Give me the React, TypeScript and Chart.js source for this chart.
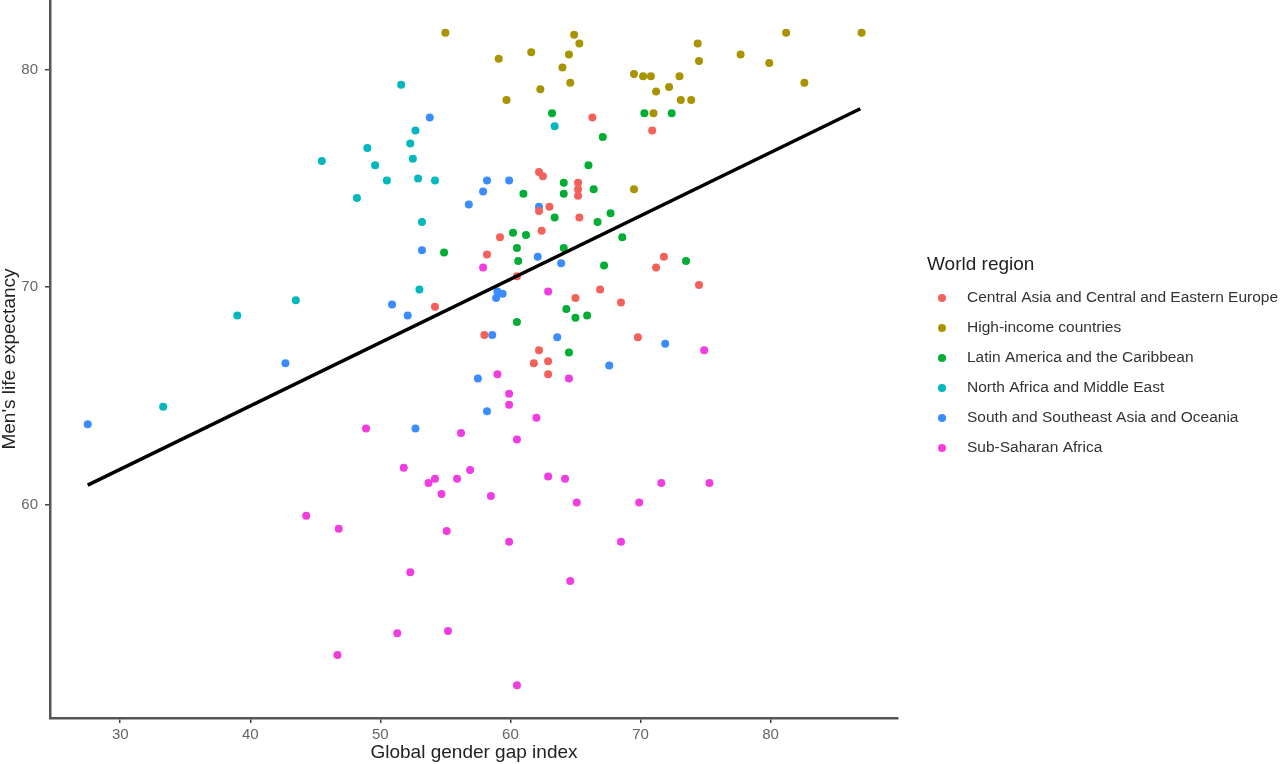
import React, { useEffect, useRef } from "react";
import { Chart, registerables } from "chart.js";

Chart.register(...registerables);

// ---- Data ----
const regionNames = [
  "Central Asia and Central and Eastern Europe",
  "High-income countries",
  "Latin America and the Caribbean",
  "North Africa and Middle East",
  "South and Southeast Asia and Oceania",
  "Sub-Saharan Africa",
];

const regionColors = ["#F4605A", "#A89400", "#00AE34", "#00B8BE", "#3A8CFF", "#F03CE0"];

const centralAsiaX = [66.3, 70.9, 62.2, 62.5, 65.2, 65.2, 65.2, 63.0, 62.2, 65.3, 62.4, 59.2, 58.2, 60.5, 71.8, 71.2, 74.5, 65.0, 66.9, 68.5, 54.2, 58.0, 69.8, 62.2, 61.8, 62.9, 62.9];
const centralAsiaY = [77.8, 77.2, 75.3, 75.1, 74.8, 74.5, 74.2, 73.7, 73.5, 73.2, 72.6, 72.3, 71.5, 70.5, 71.4, 70.9, 70.1, 69.5, 69.9, 69.3, 69.1, 67.8, 67.7, 67.1, 66.5, 66.6, 66.0];

const highIncomeX = [55.0, 59.1, 61.6, 64.9, 65.3, 64.5, 64.0, 64.6, 62.3, 59.7, 74.4, 74.5, 77.7, 81.2, 87.0, 79.9, 82.6, 69.5, 70.2, 70.8, 71.2, 72.2, 73.0, 73.1, 73.9, 71.0, 69.5];
const highIncomeY = [81.7, 80.5, 80.8, 81.6, 81.2, 80.7, 80.1, 79.4, 79.1, 78.6, 81.2, 80.4, 80.7, 81.7, 81.7, 80.3, 79.4, 79.8, 79.7, 79.7, 79.0, 79.2, 79.7, 78.6, 78.6, 78.0, 74.5];

const latinAmericaX = [63.2, 67.1, 66.0, 64.1, 64.1, 66.4, 61.0, 70.3, 72.4, 67.7, 66.7, 63.4, 68.6, 60.2, 61.2, 60.5, 60.6, 64.1, 67.2, 73.5, 54.9, 64.3, 65.0, 65.9, 60.5, 64.5];
const latinAmericaY = [78.0, 76.9, 75.6, 74.8, 74.3, 74.5, 74.3, 78.0, 78.0, 73.4, 73.0, 73.2, 72.3, 72.5, 72.4, 71.8, 71.2, 71.8, 71.0, 71.2, 71.6, 69.0, 68.6, 68.7, 68.4, 67.0];

const northAfricaX = [51.6, 52.7, 52.3, 49.0, 49.6, 45.5, 52.5, 50.5, 52.9, 54.2, 48.2, 53.2, 53.0, 43.5, 39.0, 33.3, 63.4];
const northAfricaY = [79.3, 77.2, 76.6, 76.4, 75.6, 75.8, 75.9, 74.9, 75.0, 74.9, 74.1, 73.0, 69.9, 69.4, 68.7, 64.5, 77.4];

const southAsiaX = [53.8, 53.2, 50.9, 52.1, 42.7, 27.5, 52.7, 58.2, 57.9, 59.9, 56.8, 62.2, 62.1, 63.9, 59.0, 59.4, 58.9, 58.6, 63.6, 71.9, 67.6, 57.5, 58.2];
const southAsiaY = [77.8, 71.7, 69.2, 68.7, 66.5, 63.7, 63.5, 74.9, 74.4, 74.9, 73.8, 73.7, 71.4, 71.1, 69.8, 69.7, 69.5, 67.8, 67.7, 67.4, 66.4, 65.8, 64.3];

const subSaharanX = [57.9, 62.9, 74.9, 59.0, 64.5, 48.9, 59.9, 59.9, 62.0, 56.2, 60.5, 51.8, 53.7, 54.2, 54.7, 56.9, 55.9, 58.5, 62.9, 64.2, 65.1, 69.9, 71.6, 75.3, 44.3, 46.8, 55.1, 59.9, 68.5, 52.3, 64.6, 51.3, 55.2, 46.7, 60.5];
const subSaharanY = [70.9, 69.8, 67.1, 66.0, 65.8, 63.5, 65.1, 64.6, 64.0, 63.3, 63.0, 61.7, 61.0, 61.2, 60.5, 61.6, 61.2, 60.4, 61.3, 61.2, 60.1, 60.1, 61.0, 61.0, 59.5, 58.9, 58.8, 58.3, 58.3, 56.9, 56.5, 54.1, 54.2, 53.1, 51.7];

const fitLineX = [27.5, 86.9];
const fitLineY = [60.9, 78.2];

const xTicks = [30, 40, 50, 60, 70, 80];
const yTicks = [60, 70, 80];

const xMin = 24.6;
const xMax = 89.8;
const yMin = 50.2;
const yMax = 83.2;

const regionXs = [centralAsiaX, highIncomeX, latinAmericaX, northAfricaX, southAsiaX, subSaharanX];
const regionYs = [centralAsiaY, highIncomeY, latinAmericaY, northAfricaY, southAsiaY, subSaharanY];

const FONT = '"Liberation Sans", Arial, sans-serif';

export default function App() {
  const ref = useRef<HTMLCanvasElement>(null);

  useEffect(() => {
    if (!ref.current) return;
    const toPts = (xs: number[], ys: number[]) => xs.map((x, i) => ({ x, y: ys[i] }));

    const datasets: any[] = [
      {
        label: "Linear fit",
        data: toPts(fitLineX, fitLineY),
        showLine: true,
        borderColor: "#000000",
        backgroundColor: "#000000",
        borderWidth: 3.5,
        pointRadius: 0,
        order: 0,
      },
      ...regionNames.map((name, i) => ({
        label: name,
        data: toPts(regionXs[i], regionYs[i]),
        backgroundColor: regionColors[i],
        borderColor: regionColors[i],
        pointRadius: 4,
        pointBorderWidth: 0,
        order: 1,
      })),
    ];

    const legendPlugin = {
      id: "regionLegend",
      afterDraw(chart: any) {
        const ctx = chart.ctx as CanvasRenderingContext2D;
        ctx.save();
        ctx.textBaseline = "middle";
        ctx.textAlign = "left";
        ctx.fillStyle = "#222222";
        ctx.font = `19px ${FONT}`;
        ctx.fillText("World region", 927, 265);
        ctx.font = `15.5px ${FONT}`;
        regionNames.forEach((name, i) => {
          const y = 298 + i * 30;
          ctx.beginPath();
          ctx.fillStyle = regionColors[i];
          ctx.arc(942, y, 4, 0, Math.PI * 2);
          ctx.fill();
          ctx.fillStyle = "#333333";
          ctx.fillText(name, 967, y);
        });
        ctx.restore();
      },
    };

    const chart = new Chart(ref.current, {
      type: "scatter",
      data: { datasets },
      options: {
        animation: false,
        responsive: true,
        maintainAspectRatio: false,
        events: [],
        layout: { autoPadding: false, padding: { left: 0, top: 0, right: 382, bottom: 0 } },
        plugins: {
          legend: { display: false },
          tooltip: { enabled: false },
        },
        scales: {
          x: {
            type: "linear",
            min: xMin,
            max: xMax,
            afterBuildTicks: (s: any) => {
              s.ticks = xTicks.map((v) => ({ value: v }));
            },
            afterFit: (s: any) => {
              s.height = 46;
              s.paddingLeft = 0;
              s.paddingRight = 0;
              s.paddingTop = 0;
              s.paddingBottom = 0;
            },
            grid: { display: true, drawOnChartArea: false, drawTicks: true, tickLength: 5, color: "#444444", lineWidth: 1.5 },
            border: { display: true, color: "#555555", width: 2.5 },
            ticks: { color: "#666666", font: { family: FONT, size: 15 }, padding: 3, maxRotation: 0, autoSkip: false },
            title: {
              display: true,
              text: "Global gender gap index",
              color: "#222222",
              font: { family: FONT, size: 19, lineHeight: 1 },
              padding: { top: 0, bottom: 2 },
            },
          },
          y: {
            type: "linear",
            min: yMin,
            max: yMax,
            afterBuildTicks: (s: any) => {
              s.ticks = yTicks.map((v) => ({ value: v }));
            },
            afterFit: (s: any) => {
              s.width = 50;
              s.paddingLeft = 0;
              s.paddingRight = 0;
              s.paddingTop = 0;
              s.paddingBottom = 0;
            },
            grid: { display: true, drawOnChartArea: false, drawTicks: true, tickLength: 5, color: "#444444", lineWidth: 1.5 },
            border: { display: true, color: "#555555", width: 2.5 },
            ticks: { color: "#666666", font: { family: FONT, size: 15 }, padding: 7, autoSkip: false },
            title: {
              display: true,
              text: "Men's life expectancy",
              color: "#222222",
              font: { family: FONT, size: 19, lineHeight: 1 },
              padding: { top: 0, bottom: 0 },
            },
          },
        },
      },
      plugins: [legendPlugin],
    } as any);

    return () => chart.destroy();
  }, []);

  return (
    <div style={{ position: "absolute", left: 0, top: 0, width: 1280, height: 764, background: "#ffffff" }}>
      <canvas ref={ref} />
    </div>
  );
}
